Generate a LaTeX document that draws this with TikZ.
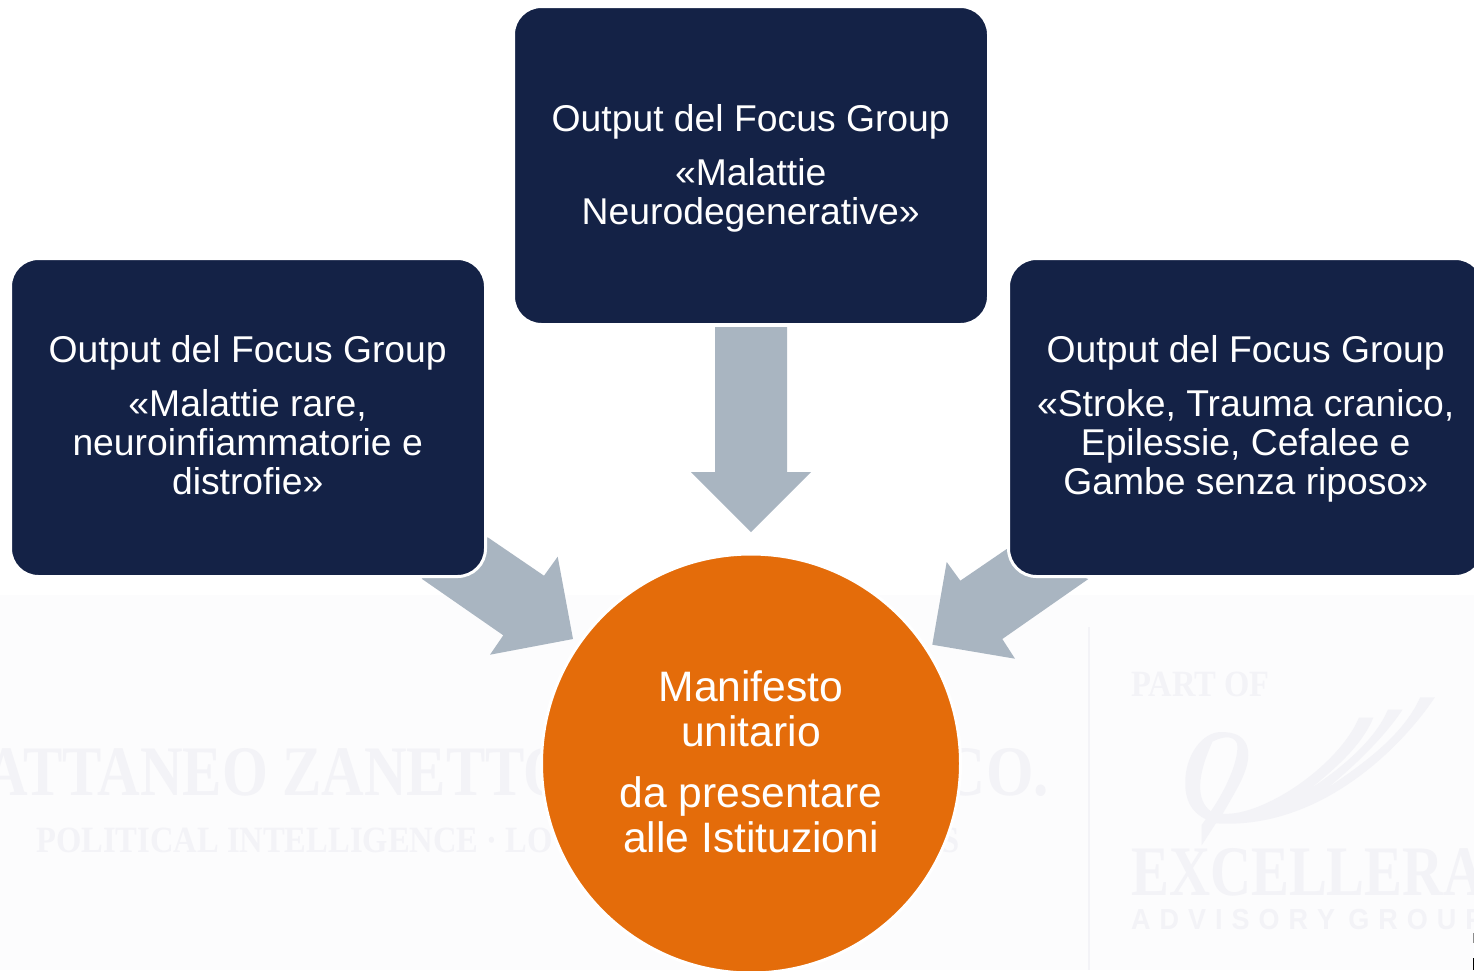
\documentclass[tikz,border=0pt]{standalone}
\usepackage{fontspec}
\setmainfont{Liberation Sans}
\newfontfamily\wmserif{Liberation Serif}[BoldFont={Liberation Serif Bold}]
\definecolor{navy}{HTML}{142246}
\definecolor{steel}{HTML}{A9B5C1}
\definecolor{orangefill}{HTML}{E46C0A}
\definecolor{wmbg}{HTML}{FCFCFD}
\definecolor{wmink}{HTML}{F3F3F7}
\newcommand{\boxfont}{\fontsize{37.3}{39}\selectfont}
\newcommand{\hubfont}{\fontsize{42.6}{45}\selectfont}
\tikzset{
  focusbox/.style={draw=white,line width=3pt,fill=navy,rounded corners=28pt,minimum width=475pt,minimum height=318pt,inner sep=0pt},
  boxtext/.style={text=white,align=center,inner sep=0pt,anchor=base,font=\boxfont},
  hubtext/.style={text=white,align=center,inner sep=0pt,anchor=base,font=\hubfont},
  blockarrow/.style={fill=steel,draw=none},
  wmtext/.style={text=wmink,inner sep=0pt,anchor=base west},
}
\begin{document}
\begin{tikzpicture}[x=1pt,y=-1pt]
\useasboundingbox (0,0) rectangle (1474,970);
\clip (0,0) rectangle (1474,970);
\fill[white] (0,0) rectangle (1474,970);
\fill[wmbg] (0,595) rectangle (1474,970);
% watermark
\node[wmtext] (wm1) at (-15,795) {\scalebox{.83}[1]{\wmserif\bfseries\fontsize{71}{71}\selectfont ATTANEO ZANETTO}};
\node[wmtext,anchor=base east] (wm1b) at (1049,795) {\scalebox{.86}[1]{\wmserif\bfseries\fontsize{71}{71}\selectfont CO.}};
\node[wmtext] (wm2) at (36,852) {\scalebox{.88}[1]{\wmserif\bfseries\fontsize{37}{37}\selectfont POLITICAL INTELLIGENCE · LO}};
\node[wmtext,anchor=base east] (wm2b) at (960,852) {\scalebox{.88}[1]{\wmserif\bfseries\fontsize{37}{37}\selectfont S}};
\node[wmtext] (wm3) at (1131,696) {\scalebox{.88}[1]{\wmserif\bfseries\fontsize{37}{37}\selectfont PART OF}};
\node[wmtext] (wm4) at (1131,895) {\scalebox{.80}[1]{\wmserif\bfseries\fontsize{71}{71}\selectfont EXCELLERA}};
\node[wmtext] (wm5) at (1131,929) {\scalebox{.93}[1]{\fontsize{29}{29}\selectfont\bfseries A\,\,D\,\,V\,\,I\,\,S\,\,O\,\,R\,\,Y\,\,\,G\,\,R\,\,O\,\,U\,\,P}};
\fill[wmink] (1088,627) rectangle (1090,970);
\begin{scope}[shift={(940,598.5)},x=0.3406pt,y=-0.3406pt]
\fill[wmink,even odd rule] (768,725) -- (768,665) -- (780,648)
  .. controls (735,625) and (720,590) .. (720,540)
  .. controls (720,460) and (770,392) .. (825,392)
  .. controls (860,392) and (905,400) .. (905,460)
  .. controls (905,510) and (865,570) .. (830,632)
  .. controls (950,640) and (1170,490) .. (1230,350) -- (1272,350)
  .. controls (1240,430) and (1160,500) .. (1085,560)
  .. controls (1190,490) and (1280,410) .. (1315,326) -- (1358,326)
  .. controls (1310,400) and (1220,490) .. (1135,558)
  .. controls (1250,480) and (1360,400) .. (1410,290) -- (1453,290)
  .. controls (1360,430) and (1120,680) .. (810,660) -- cycle
  (795,625) .. controls (750,590) and (755,520) .. (800,420)
  .. controls (830,405) and (860,400) .. (872,425)
  .. controls (880,470) and (840,560) .. (795,625) -- cycle;
\end{scope}
\fill[black!45] (1473,933) rectangle (1474,943);
\fill[black] (1473,958) rectangle (1474,970);
% arrows
\fill[blockarrow] (715,327) -- (787,327) -- (787,472) -- (811,472) -- (751,532) -- (691,472) -- (715,472) -- cycle;
\fill[blockarrow] (487.7,537.3) -- (544,575.7) -- (557.7,556.7) -- (573,639) -- (490,654.7) -- (503.3,635.3) -- (421.7,578.7) -- cycle;
\fill[blockarrow] (1006.7,549) -- (960.3,580.7) -- (946.7,562) -- (932.3,644.7) -- (1015,658.7) -- (1002.3,639) -- (1088.3,579) -- cycle;
% boxes
\node[focusbox] (top) at (751,165.5) {};
\node[focusbox] (left) at (248,417.5) {};
\node[focusbox] (right) at (1246,417.5) {};
\node[boxtext] (topt) at (750.7,224) {Output del Focus Group\\[15pt]«Malattie\\Neurodegenerative»};
\node[boxtext] (leftt) at (247.7,494.6) {Output del Focus Group\\[15pt]«Malattie rare,\\neuroinfiammatorie e\\distrofie»};
\node[boxtext] (rightt) at (1245.7,494.6) {Output del Focus Group\\[15pt]«Stroke, Trauma cranico,\\Epilessie, Cefalee e\\Gambe senza riposo»};
% circle
\node[circle,draw=white,line width=3pt,fill=orangefill,minimum size=419pt,inner sep=0pt] (hub) at (751,763.5) {};
\node[hubtext] (hubt) at (751,852) {Manifesto\\unitario\\[16pt]da presentare\\alle Istituzioni};
\end{tikzpicture}
\end{document}
